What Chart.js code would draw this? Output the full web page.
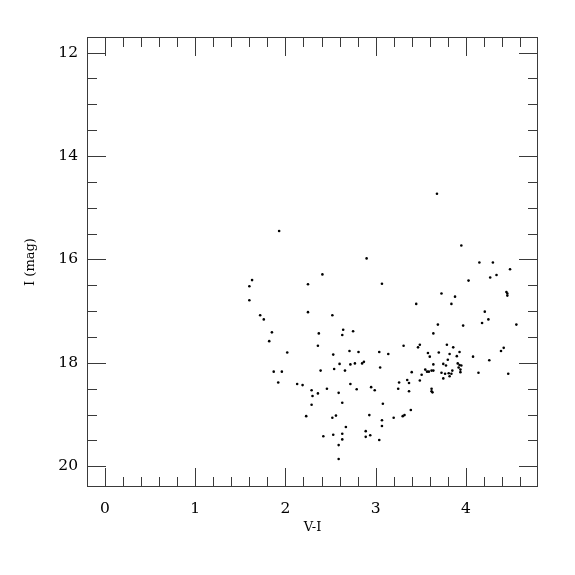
<!DOCTYPE html>
<html>
<head>
<meta charset="utf-8">
<script src="https://cdn.jsdelivr.net/npm/chart.js@4"></script>
<style>
html,body{margin:0;padding:0;background:#fff;}
#wrap{width:575px;height:575px;}
</style>
</head>
<body>
<div id="wrap"><canvas id="c" width="575" height="575"></canvas></div>
<script>
const VI_VALUES = [1.93,1.63,1.60,1.60,1.72,1.76,1.85,1.82,2.02,1.87,1.96,1.92,2.13,2.90,2.41,2.25,3.07,2.25,2.52,2.64,
2.75,2.63,2.37,2.36,2.71,2.81,3.04,3.14,3.31,2.53,2.60,2.72,2.77,2.85,2.87,3.05,2.54,2.39,2.66,2.19,
2.29,2.30,2.36,2.46,2.59,2.72,2.79,2.95,2.99,3.26,3.35,3.37,3.25,3.37,2.29,2.63,3.08,2.23,2.56,2.52,
2.93,3.20,3.30,3.32,3.07,3.07,2.67,2.42,2.53,2.63,2.63,2.89,2.89,2.94,3.04,2.59,2.59,3.68,3.95,4.15,
4.30,4.49,4.27,4.34,4.03,4.45,4.46,4.46,3.73,3.88,3.45,3.84,4.21,4.25,3.69,3.97,4.18,4.56,3.64,3.47,
3.49,3.79,3.86,3.93,3.70,3.58,3.82,3.60,3.90,4.08,4.39,4.42,3.80,4.26,3.64,3.75,3.78,3.91,3.93,3.95,
3.92,3.94,3.94,3.55,3.57,3.59,3.62,3.64,3.40,3.51,3.73,3.77,3.81,3.85,3.84,3.82,3.75,4.14,4.47,3.49,
3.62,3.62,3.63,3.39];
const I_VALUES = [15.45,16.40,16.52,16.79,17.08,17.16,17.41,17.58,17.80,18.17,18.17,18.38,18.41,15.98,16.29,16.48,16.47,17.02,17.08,17.36,
17.39,17.46,17.43,17.67,17.77,17.79,17.79,17.83,17.67,17.84,18.02,18.03,18.01,18.01,17.98,18.09,18.12,18.15,18.15,18.43,
18.53,18.64,18.59,18.50,18.58,18.41,18.51,18.47,18.53,18.38,18.33,18.39,18.50,18.55,18.81,18.77,18.79,19.03,19.02,19.06,
19.01,19.06,19.03,19.01,19.11,19.22,19.24,19.42,19.39,19.37,19.48,19.32,19.43,19.40,19.49,19.59,19.86,14.73,15.73,16.06,
16.06,16.19,16.35,16.30,16.41,16.63,16.66,16.70,16.66,16.72,16.86,16.86,17.01,17.16,17.26,17.28,17.23,17.26,17.43,17.70,
17.65,17.65,17.70,17.79,17.80,17.81,17.83,17.88,17.87,17.88,17.77,17.71,17.94,17.95,18.03,18.02,18.05,18.01,18.04,18.05,
18.09,18.13,18.18,18.13,18.17,18.17,18.15,18.15,18.18,18.23,18.19,18.21,18.20,18.15,18.21,18.26,18.30,18.19,18.21,18.34,
18.50,18.55,18.57,18.91];
const X_TICKS = [0,1,2,3,4];
const Y_TICKS = [12,14,16,18,20];
const X_MINOR_STEP = 0.2;
const Y_MINOR_STEP = 0.5;
const X_RANGE = [-0.2, 4.8];
const Y_RANGE = [11.7, 20.4];

const points = VI_VALUES.map((v,i)=>({x:v, y:I_VALUES[i]}));

const frameTicks = {
  id:'frameTicks',
  afterDraw(chart){
    const {ctx, chartArea:a, scales:{x, y}} = chart;
    ctx.save();
    ctx.strokeStyle = '#3a3a3a';
    ctx.lineWidth = 1;
    ctx.strokeRect(a.left+0.5, a.top+0.5, a.right-a.left-1, a.bottom-a.top-1);
    ctx.beginPath();
    const eps = 1e-6;
    for (let k = Math.ceil((X_RANGE[0]-eps)/X_MINOR_STEP); k*X_MINOR_STEP <= X_RANGE[1]+eps; k++){
      const v = k*X_MINOR_STEP;
      const major = X_TICKS.some(t=>Math.abs(t-v)<1e-6);
      const len = major ? 19 : 10;
      const px = Math.round(x.getPixelForValue(v))+0.5;
      if (px <= a.left+1 || px >= a.right-1) continue;
      ctx.moveTo(px, a.bottom); ctx.lineTo(px, a.bottom-len);
      ctx.moveTo(px, a.top); ctx.lineTo(px, a.top+len);
    }
    for (let k = Math.ceil((Y_RANGE[0]-eps)/Y_MINOR_STEP); k*Y_MINOR_STEP <= Y_RANGE[1]+eps; k++){
      const v = k*Y_MINOR_STEP;
      const major = Y_TICKS.some(t=>Math.abs(t-v)<1e-6);
      const len = major ? 19 : 10;
      const py = Math.round(y.getPixelForValue(v))+0.5;
      if (py <= a.top+1 || py >= a.bottom-1) continue;
      ctx.moveTo(a.left, py); ctx.lineTo(a.left+len, py);
      ctx.moveTo(a.right, py); ctx.lineTo(a.right-len, py);
    }
    ctx.stroke();
    ctx.restore();
  }
};

new Chart(document.getElementById('c'), {
  type:'scatter',
  data:{datasets:[{data:points, backgroundColor:'#000', borderWidth:0, pointRadius:1.3, pointHoverRadius:1.3}]},
  options:{
    responsive:false, animation:false, events:[],
    layout:{padding:{left:0, top:37, right:37, bottom:0}},
    plugins:{legend:{display:false}, tooltip:{enabled:false}},
    scales:{
      x:{type:'linear', min:X_RANGE[0], max:X_RANGE[1],
        afterBuildTicks(s){ s.ticks = X_TICKS.map(v=>({value:v})); },
        afterFit(s){ s.height = 88; },
        grid:{display:false, drawTicks:false}, border:{display:false},
        ticks:{color:'#000', font:{family:'DejaVu Serif', size:15.5}, padding:13, maxRotation:0, autoSkip:false},
        title:{display:true, text:'V-I', color:'#000', font:{family:'DejaVu Serif', size:13}, padding:{top:0,bottom:40}}
      },
      y:{type:'linear', reverse:true, min:Y_RANGE[0], max:Y_RANGE[1],
        afterBuildTicks(s){ s.ticks = Y_TICKS.map(v=>({value:v})); },
        afterFit(s){ s.width = 87; },
        grid:{display:false, drawTicks:false}, border:{display:false},
        ticks:{color:'#000', font:{family:'DejaVu Serif', size:15.5}, padding:9, autoSkip:false},
        title:{display:true, text:'I (mag)', color:'#000', font:{family:'DejaVu Serif', size:13}, padding:{top:23,bottom:0}}
      }
    }
  },
  plugins:[frameTicks]
});
</script>
</body>
</html>
